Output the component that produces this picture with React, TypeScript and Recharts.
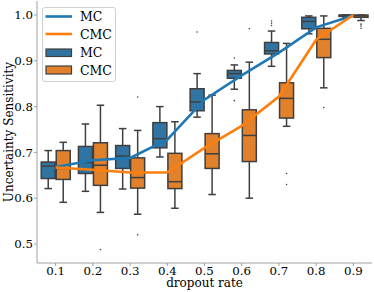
import React from 'react';
import { ComposedChart, Bar, Line, XAxis, YAxis, Legend } from 'recharts';

const rates = ['0.1', '0.2', '0.3', '0.4', '0.5', '0.6', '0.7', '0.8', '0.9'];

const mcLow = [0.621, 0.615, 0.620, 0.690, 0.777, 0.838, 0.888, 0.959, 0.995];
const mcQ1 = [0.643, 0.654, 0.665, 0.710, 0.791, 0.862, 0.915, 0.970, 0.997];
const mcMedian = [0.670, 0.678, 0.692, 0.730, 0.810, 0.872, 0.922, 0.986, 0.999];
const mcQ3 = [0.679, 0.713, 0.715, 0.765, 0.839, 0.879, 0.940, 0.995, 1.0];
const mcHigh = [0.704, 0.762, 0.752, 0.800, 0.872, 0.891, 0.965, 0.998, 1.0];
const mcOutliers = [[], [], [], [], [0.963], [0.906, 0.813], [0.987, 0.982, 0.977], [], []];
const mcMean = [0.668, 0.683, 0.688, 0.728, 0.815, 0.868, 0.918, 0.973, 0.999];

const cmcLow = [0.591, 0.569, 0.565, 0.578, 0.608, 0.600, 0.757, 0.841, 0.988];
const cmcQ1 = [0.641, 0.628, 0.622, 0.621, 0.665, 0.680, 0.775, 0.907, 0.995];
const cmcMedian = [0.665, 0.672, 0.645, 0.636, 0.697, 0.737, 0.818, 0.947, 0.998];
const cmcQ3 = [0.704, 0.721, 0.688, 0.698, 0.741, 0.793, 0.852, 0.971, 1.0];
const cmcHigh = [0.722, 0.803, 0.748, 0.767, 0.825, 0.897, 0.938, 0.998, 1.0];
const cmcOutliers = [[], [0.488], [0.821, 0.520], [], [], [0.970], [0.654, 0.630], [0.798], [0.980, 0.976, 0.971]];
const cmcMean = [0.667, 0.662, 0.656, 0.656, 0.710, 0.758, 0.822, 0.946, 1.0];

const yTicks = [0.5, 0.6, 0.7, 0.8, 0.9, 1.0];
const Y_MIN = 0.4585;
const Y_MAX = 1.0306;

const FONT = '"DejaVu Serif", serif';
const MC_LINE = '#1f77b4';
const CMC_LINE = '#ff7f0e';
const MC_BOX = '#3274a1';
const CMC_BOX = '#e1812c';
const EDGE = '#3f3f3f';
const SPINE = '#a0a0a0';

const data = rates.map((rate, i) => ({
  rate,
  mcSpan: [Y_MIN, Y_MAX],
  cmcSpan: [Y_MIN, Y_MAX],
  mc: { low: mcLow[i], q1: mcQ1[i], med: mcMedian[i], q3: mcQ3[i], high: mcHigh[i], out: mcOutliers[i] },
  cmc: { low: cmcLow[i], q1: cmcQ1[i], med: cmcMedian[i], q3: cmcQ3[i], high: cmcHigh[i], out: cmcOutliers[i] },
  mcMean: mcMean[i],
  cmcMean: cmcMean[i],
}));

const makeBoxShape = (key: 'mc' | 'cmc', fill: string) => (props: any) => {
  const { x, y, width, height, payload } = props;
  if (!payload || !payload[key]) return <g />;
  const s = payload[key];
  const ppu = height / (Y_MAX - Y_MIN);
  const toY = (v: number) => y + (Y_MAX - v) * ppu;
  const cx = x + width / 2;
  const capHalf = width / 4;
  const bx = x + 0.5;
  const bw = width - 1;
  return (
    <g>
      <line x1={cx} x2={cx} y1={toY(s.high)} y2={toY(s.q3)} stroke={EDGE} strokeWidth={1.5} />
      <line x1={cx} x2={cx} y1={toY(s.q1)} y2={toY(s.low)} stroke={EDGE} strokeWidth={1.5} />
      <line x1={cx - capHalf} x2={cx + capHalf} y1={toY(s.high)} y2={toY(s.high)} stroke={EDGE} strokeWidth={1.5} />
      <line x1={cx - capHalf} x2={cx + capHalf} y1={toY(s.low)} y2={toY(s.low)} stroke={EDGE} strokeWidth={1.5} />
      <rect x={bx} y={toY(s.q3)} width={bw} height={Math.max(toY(s.q1) - toY(s.q3), 0.5)} fill={fill} stroke={EDGE} strokeWidth={1.5} />
      <line x1={bx} x2={bx + bw} y1={toY(s.med)} y2={toY(s.med)} stroke={EDGE} strokeWidth={1.5} />
      {s.out.map((o: number, j: number) => (
        <circle key={j} cx={cx} cy={toY(o)} r={0.8} fill={EDGE} />
      ))}
    </g>
  );
};

const LegendBox = () => (
  <svg width={76} height={76} style={{ display: 'block' }}>
    <rect x={0.5} y={0.5} width={73} height={74} rx={2.5} ry={2.5} fill="#ffffff" fillOpacity={0.8} stroke="#d0d0d0" strokeWidth={1} />
    <line x1={3.5} x2={30} y1={9.5} y2={9.5} stroke={MC_LINE} strokeWidth={2.6} />
    <line x1={3.5} x2={30} y1={27} y2={27} stroke={CMC_LINE} strokeWidth={2.6} />
    <rect x={4} y={42} width={25.5} height={7.5} fill={MC_BOX} stroke={EDGE} strokeWidth={1.2} />
    <rect x={4} y={59} width={25.5} height={8} fill={CMC_BOX} stroke={EDGE} strokeWidth={1.2} />
    <g fontFamily={FONT} fontSize={12.5} fill="#000">
      <text x={38} y={14}>MC</text>
      <text x={38} y={31.5}>CMC</text>
      <text x={38} y={50}>MC</text>
      <text x={38} y={67.5}>CMC</text>
    </g>
  </svg>
);

const YLabel = (props: any) => {
  const vb = props.viewBox || { x: 0, y: 1, width: 37, height: 262 };
  const cx = 13;
  const cy = vb.y + vb.height / 2;
  return (
    <text x={cx} y={cy} transform={`rotate(-90, ${cx}, ${cy})`} textAnchor="middle" fontFamily={FONT} fontSize={12} fill="#000">
      Uncertainty Sensitivity
    </text>
  );
};

const XLabel = (props: any) => {
  const vb = props.viewBox || { x: 37, y: 263, width: 335, height: 29 };
  const cx = vb.x + vb.width / 2;
  return (
    <text x={cx} y={286.5} textAnchor="middle" fontFamily={FONT} fontSize={12} fill="#000">
      dropout rate
    </text>
  );
};

export default function App() {
  return (
    <div style={{ position: 'absolute', left: 0, top: 0, width: 374, height: 292, background: '#fff' }}>
      <ComposedChart
        width={374}
        height={292}
        data={data}
        margin={{ top: 1, right: 2, bottom: 0, left: 0 }}
        barCategoryGap="10%"
        barGap={0}
      >
        <XAxis
          dataKey="rate"
          type="category"
          height={29}
          tickSize={3}
          tickMargin={0.5}
          axisLine={{ stroke: SPINE, strokeWidth: 1 }}
          tickLine={{ stroke: SPINE }}
          tick={{ fontFamily: FONT, fontSize: 11.8, fill: '#000' }}
          interval={0}
          label={<XLabel />}
        />
        <XAxis xAxisId="top" dataKey="rate" orientation="top" height={0} tick={false} tickLine={false} axisLine={{ stroke: SPINE, strokeWidth: 1 }} />
        <YAxis
          type="number"
          domain={[Y_MIN, Y_MAX]}
          ticks={yTicks}
          allowDataOverflow
          width={37}
          tickSize={3}
          tickMargin={1}
          axisLine={{ stroke: SPINE, strokeWidth: 1 }}
          tickLine={{ stroke: SPINE }}
          tick={{ fontFamily: FONT, fontSize: 11.8, fill: '#000' }}
          tickFormatter={(v: number) => v.toFixed(1)}
          label={<YLabel />}
        />
        <YAxis yAxisId="right" orientation="right" width={0} domain={[Y_MIN, Y_MAX]} allowDataOverflow tick={false} tickLine={false} axisLine={{ stroke: SPINE, strokeWidth: 1 }} />
        <Bar dataKey="mcSpan" name="MC" shape={makeBoxShape('mc', MC_BOX)} isAnimationActive={false} legendType="none" />
        <Bar dataKey="cmcSpan" name="CMC" shape={makeBoxShape('cmc', CMC_BOX)} isAnimationActive={false} legendType="none" />
        <Line dataKey="mcMean" type="linear" stroke={MC_LINE} strokeWidth={2.6} dot={false} activeDot={false} isAnimationActive={false} />
        <Line dataKey="cmcMean" xAxisId="top" yAxisId="right" type="linear" stroke={CMC_LINE} strokeWidth={2.6} dot={false} activeDot={false} isAnimationActive={false} />
        <Legend
          layout="vertical"
          align="center"
          verticalAlign="middle"
          content={() => <LegendBox />}
          wrapperStyle={{ position: 'absolute', left: 42, top: 7, width: 76, height: 76 }}
        />
      </ComposedChart>
    </div>
  );
}
